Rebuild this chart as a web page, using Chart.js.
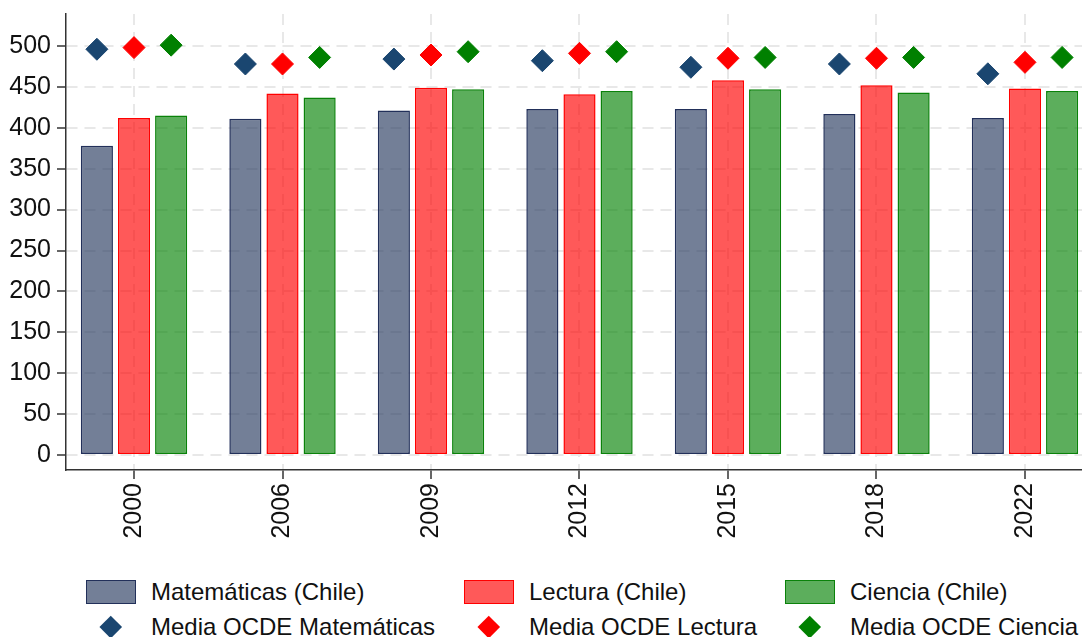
<!DOCTYPE html>
<html lang="es">
<head>
<meta charset="UTF-8">
<script src="https://cdn.jsdelivr.net/npm/chart.js"></script>
<title>PISA Chile vs OCDE</title>
<style>
  body { margin: 0; background: #fff; font-family: "Liberation Sans", Arial, sans-serif; }
  #wrap { position: relative; width: 1082px; height: 637px; }
  #grafico-box { position: absolute; left: 0; top: 0; width: 1082px; height: 545px; }
  .leyenda-item { position: absolute; height: 30px; display: flex; align-items: center; font-size: 24px; color: #111; white-space: nowrap; }
  .caja { width: 48px; height: 22px; box-sizing: content-box; margin-right: 15px; }
  .rombo-hold { width: 50px; height: 30px; margin-right: 15px; display: flex; align-items: center; justify-content: center; }
  .rombo { width: 15.5px; height: 15.5px; transform: rotate(45deg); }
</style>
</head>
<body>
<div id="wrap">
  <div id="grafico-box"><canvas id="grafico"></canvas></div>
  <div id="leyenda"></div>
</div>

<script>
  // anos de la prueba PISA
  const anos = ["2000", "2006", "2009", "2012", "2015", "2018", "2022"];

  // puntajes Chile (barras)
  const matChile = [378, 411, 421, 423, 423, 417, 412];
  const lecChile = [412, 442, 449, 441, 458, 452, 448];
  const cieChile = [415, 437, 447, 445, 447, 443, 445];

  // media OCDE (rombos)
  const matOcde = [496, 478, 484, 482, 474, 478, 466];
  const lecOcde = [498, 478, 489, 491, 485, 485, 480];
  const cieOcde = [501, 486, 493, 493, 486, 486, 486];

  const ticksY = [0, 50, 100, 150, 200, 250, 300, 350, 400, 450, 500];

  // barras en x = indice del ano, rombos corridos un cuarto a cada lado
  function puntos(valores, corrimiento) {
    return valores.map(function (v, i) { return { x: i + corrimiento, y: v }; });
  }

  const grilla = { color: "#e8e8e8", lineWidth: 2, drawTicks: true, tickLength: 9, tickColor: "#333", tickWidth: 1.5 };
  const fuente = { family: "'Liberation Sans', Arial, sans-serif", size: 25 };

  const datos = {
    datasets: [
      { type: "bar", label: "Matemáticas (Chile)", data: puntos(matChile, 0),
        backgroundColor: "rgba(36, 54, 92, 0.64)", borderColor: "#22305a", borderWidth: 1.5, borderSkipped: false },
      { type: "bar", label: "Lectura (Chile)", data: puntos(lecChile, 0),
        backgroundColor: "rgba(255, 0, 0, 0.65)", borderColor: "#ff0000", borderWidth: 1.5, borderSkipped: false },
      { type: "bar", label: "Ciencia (Chile)", data: puntos(cieChile, 0),
        backgroundColor: "rgba(0, 128, 0, 0.64)", borderColor: "#0a820a", borderWidth: 1.5, borderSkipped: false },
      { type: "scatter", label: "Media OCDE Matemáticas", data: puntos(matOcde, -0.25),
        pointStyle: "rectRot", radius: 11, backgroundColor: "#1a4670", borderColor: "#1a4670", borderWidth: 1 },
      { type: "scatter", label: "Media OCDE Lectura", data: puntos(lecOcde, 0),
        pointStyle: "rectRot", radius: 11, backgroundColor: "#ff0000", borderColor: "#ff0000", borderWidth: 1 },
      { type: "scatter", label: "Media OCDE Ciencia", data: puntos(cieOcde, 0.25),
        pointStyle: "rectRot", radius: 11, backgroundColor: "#008000", borderColor: "#008000", borderWidth: 1 }
    ]
  };

  const config = {
    type: "bar",
    data: datos,
    options: {
      responsive: true,
      maintainAspectRatio: false,
      animation: false,
      // sin autoPadding, si no los rombos le quitan 12px al area del grafico
      layout: { autoPadding: false, padding: { top: 14, right: 0, left: 0, bottom: 0 } },
      categoryPercentage: 0.75,
      barPercentage: 0.865,
      plugins: { legend: { display: false }, tooltip: { enabled: false } },
      scales: {
        x: {
          type: "linear",
          min: -0.458,
          max: 6.384,
          offset: false,
          grid: Object.assign({ offset: false }, grilla),
          border: { display: true, color: "#333", width: 1.5, dash: [11, 7] },
          afterBuildTicks: function (eje) {
            eje.ticks = anos.map(function (a, i) { return { value: i }; });
          },
          afterFit: function (eje) {
            eje.height = 75;
            eje.paddingLeft = 0;
            eje.paddingRight = 0;
          },
          ticks: {
            autoSkip: false,
            maxRotation: 90,
            minRotation: 90,
            padding: 4,
            color: "#111",
            font: fuente,
            callback: function (valor) { return anos[valor]; }
          }
        },
        y: {
          min: -18.3,
          max: 539.1,
          grid: grilla,
          border: { display: true, color: "#333", width: 1.5, dash: [11, 7] },
          afterBuildTicks: function (eje) {
            eje.ticks = ticksY.map(function (v) { return { value: v }; });
          },
          afterFit: function (eje) {
            eje.width = 66;
            eje.paddingTop = 0;
            eje.paddingBottom = 0;
          },
          ticks: {
            padding: 6,
            color: "#111",
            font: fuente
          }
        }
      }
    }
  };

  let grafico = new Chart(document.getElementById("grafico"), config);

  // leyenda armada a mano, tres columnas y dos filas
  const colX = [86, 464, 785];
  const filaY = [577, 612];
  let leyenda = document.getElementById("leyenda");
  datos.datasets.forEach(function (ds, i) {
    let item = document.createElement("div");
    item.className = "leyenda-item";
    item.style.left = colX[i % 3] + "px";
    item.style.top = filaY[Math.floor(i / 3)] + "px";
    let marca;
    if (ds.type === "bar") {
      marca = document.createElement("div");
      marca.className = "caja";
      marca.style.background = ds.backgroundColor;
      marca.style.border = "1.5px solid " + ds.borderColor;
    } else {
      marca = document.createElement("div");
      marca.className = "rombo-hold";
      let r = document.createElement("div");
      r.className = "rombo";
      r.style.background = ds.backgroundColor;
      marca.appendChild(r);
    }
    item.appendChild(marca);
    let txt = document.createElement("span");
    txt.textContent = ds.label;
    item.appendChild(txt);
    leyenda.appendChild(item);
  });
</script>
</body>
</html>
